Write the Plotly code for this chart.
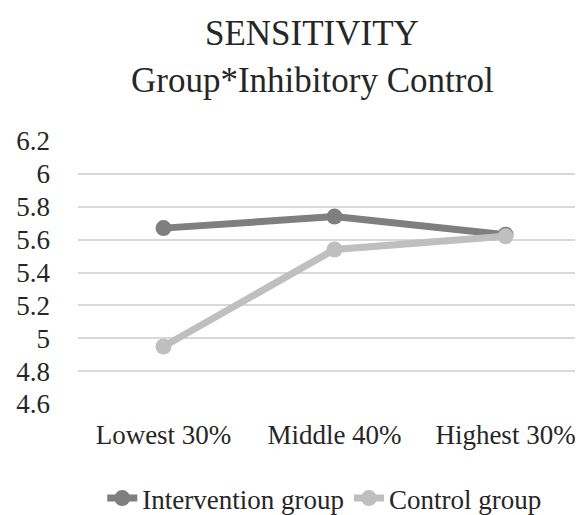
import plotly.graph_objects as go

categories = ["Lowest 30%", "Middle 40%", "Highest 30%"]
intervention = [5.67, 5.74, 5.63]
control = [4.95, 5.54, 5.62]
y_ticks = [4.6, 4.8, 5, 5.2, 5.4, 5.6, 5.8, 6, 6.2]
title_lines = ["SENSITIVITY", "Group*Inhibitory Control"]

serif = "Liberation Serif"
ink = "#262626"

fig = go.Figure()
fig.add_trace(go.Scatter(
    x=categories, y=intervention,
    name="Intervention group",
    mode="lines+markers",
    line=dict(color="#7f7f7f", width=7),
    marker=dict(size=16, color="#7f7f7f")))
fig.add_trace(go.Scatter(
    x=categories, y=control,
    name="Control group",
    mode="lines+markers",
    line=dict(color="#bfbfbf", width=7),
    marker=dict(size=16, color="#bfbfbf")))

fig.update_layout(
    width=583, height=515,
    margin=dict(l=70, r=0, t=133, b=118),
    paper_bgcolor="white", plot_bgcolor="white",
    font=dict(family=serif, size=27, color=ink),
    showlegend=True,
    legend=dict(orientation="h", x=0.48, xanchor="center",
                y=-0.36, yanchor="middle",
                font=dict(family=serif, size=27, color=ink),
                traceorder="normal"),
)
# two title lines, placed separately
for txt, ypos in zip(title_lines, [1.409, 1.231]):
    fig.add_annotation(text=txt, xref="paper", yref="paper",
                       x=0.457, y=ypos, xanchor="center", yanchor="middle",
                       showarrow=False,
                       font=dict(family=serif, size=35, color=ink))
fig.update_xaxes(range=[-0.5, 2.5], showgrid=False, showline=False,
                 zeroline=False, ticks="", ticklabelstandoff=12,
                 tickfont=dict(family=serif, size=27, color=ink))
fig.update_yaxes(range=[4.6, 6.2], tickvals=y_ticks,
                 ticktext=[str(v) for v in y_ticks],
                 showgrid=True, gridcolor="#d9d9d9", gridwidth=2,
                 zeroline=False, showline=False, ticks="",
                 ticklabelstandoff=27,
                 tickfont=dict(family=serif, size=27, color=ink))

fig.write_html("out.html")
